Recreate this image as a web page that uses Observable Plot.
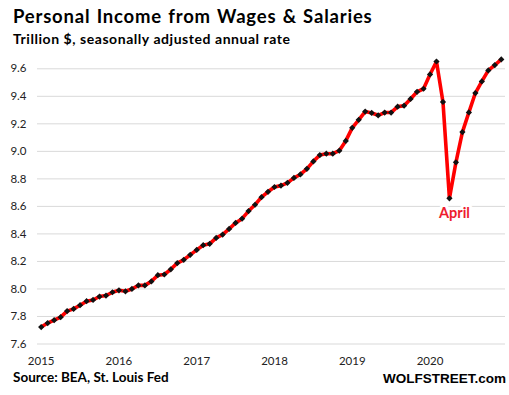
<!DOCTYPE html>
<html>
<head>
<meta charset="utf-8">
<script src="https://cdn.jsdelivr.net/npm/d3@7"></script>
<script src="https://cdn.jsdelivr.net/npm/@observablehq/plot@0.6"></script>
<style>
  html, body { margin: 0; padding: 0; background: #fff; }
  body { width: 509px; height: 395px; overflow: hidden; position: relative; font-family: Lato, "Open Sans", sans-serif; color: #000; }
  #title { position: absolute; left: 13px; top: 7px; font-size: 18.5px; font-weight: bold; line-height: 1; white-space: nowrap; letter-spacing: 0.8px; word-spacing: 1px; }
  #subtitle { position: absolute; left: 13px; top: 32px; font-size: 14px; font-weight: bold; line-height: 1; white-space: nowrap; letter-spacing: 0.55px; }
  #chart { position: absolute; left: 0; top: 50px; }
  #source { position: absolute; left: 13px; top: 371px; font-size: 13.5px; font-weight: bold; line-height: 1; white-space: nowrap; }
  #brand { position: absolute; right: 3px; top: 372px; font-family: "Liberation Sans", Arial, sans-serif; font-size: 13.5px; font-weight: bold; line-height: 1; white-space: nowrap; }
</style>
</head>
<body>
<div id="title">Personal Income from Wages &amp; Salaries</div>
<div id="subtitle">Trillion $, seasonally adjusted annual rate</div>
<div id="chart"></div>
<div id="source">Source: BEA, St. Louis Fed</div>
<div id="brand">WOLFSTREET.com</div>
<script>
// Wages & salaries, trillion $ (SAAR), monthly Jan..Dec
const years = [2015, 2016, 2017, 2018, 2019, 2020];
const wages2015 = [7.723, 7.752, 7.773, 7.795, 7.839, 7.855, 7.882, 7.911, 7.920, 7.945, 7.952, 7.976];
const wages2016 = [7.990, 7.983, 8.000, 8.026, 8.026, 8.055, 8.100, 8.105, 8.143, 8.188, 8.212, 8.248];
const wages2017 = [8.284, 8.318, 8.328, 8.371, 8.395, 8.436, 8.480, 8.511, 8.566, 8.612, 8.667, 8.706];
const wages2018 = [8.741, 8.751, 8.771, 8.807, 8.832, 8.873, 8.927, 8.973, 8.983, 8.983, 9.005, 9.076];
const wages2019 = [9.171, 9.229, 9.289, 9.279, 9.262, 9.282, 9.282, 9.325, 9.332, 9.381, 9.433, 9.455];
const wages2020 = [9.559, 9.653, 9.359, 8.659, 8.920, 9.140, 9.283, 9.424, 9.508, 9.588, 9.627, 9.668];
const yTicks = [7.6, 7.8, 8.0, 8.2, 8.4, 8.6, 8.8, 9.0, 9.2, 9.4, 9.6];
const annotationLabel = "April";
const annotationYear = 2020;
const annotationMonth = 3; // April (0-based)

const series = [wages2015, wages2016, wages2017, wages2018, wages2019, wages2020];
const data = [];
series.forEach((arr, yi) => arr.forEach((v, m) => data.push({t: yi * 12 + m, year: years[yi], month: m, value: v})));
const annot = data.filter(d => d.year === annotationYear && d.month === annotationMonth).map(d => ({...d, label: annotationLabel}));

const W = 509, H = 320;
const chart = Plot.plot({
  width: W,
  height: H,
  marginLeft: 37,
  marginRight: 4,
  marginTop: 18.3,
  marginBottom: 26.5,
  style: { fontFamily: "Lato, 'Open Sans', sans-serif", fontSize: "11.5px", color: "#222", background: "#fff" },
  x: { domain: [-0.57, 71.65], ticks: years.map((y, i) => i * 12), tickFormat: t => String(years[t / 12]), tickSize: 0, tickPadding: 13, label: null },
  y: { domain: [7.6, 9.6], ticks: yTicks, tickFormat: d => d.toFixed(1), tickSize: 0, tickPadding: 11, label: null },
  marks: [
    Plot.gridY(yTicks, { stroke: "#d9d9d9", strokeOpacity: 1, strokeWidth: 1 }),
    Plot.axisY(yTicks, { tickSize: 0, tickPadding: 11, tickFormat: d => d.toFixed(1), label: null }),
    Plot.axisX(years.map((y, i) => i * 12), { tickSize: 0, tickPadding: 13, tickFormat: t => String(years[t / 12]), label: null }),
    Plot.line(data, { x: "t", y: "value", stroke: "#ff0000", strokeWidth: 3.6, curve: "linear" }),
    Plot.dot(data, { x: "t", y: "value", symbol: "diamond2", r: 2.8, fill: "#111", stroke: "none" }),
    Plot.text(annot, { x: "t", y: "value", text: "label", dx: 5, dy: 15, fill: "#ee1c2e", fontWeight: "bold", fontSize: 14.5, stroke: "white", strokeWidth: 6, textAnchor: "middle" })
  ]
});
document.getElementById("chart").appendChild(chart);
</script>
</body>
</html>
